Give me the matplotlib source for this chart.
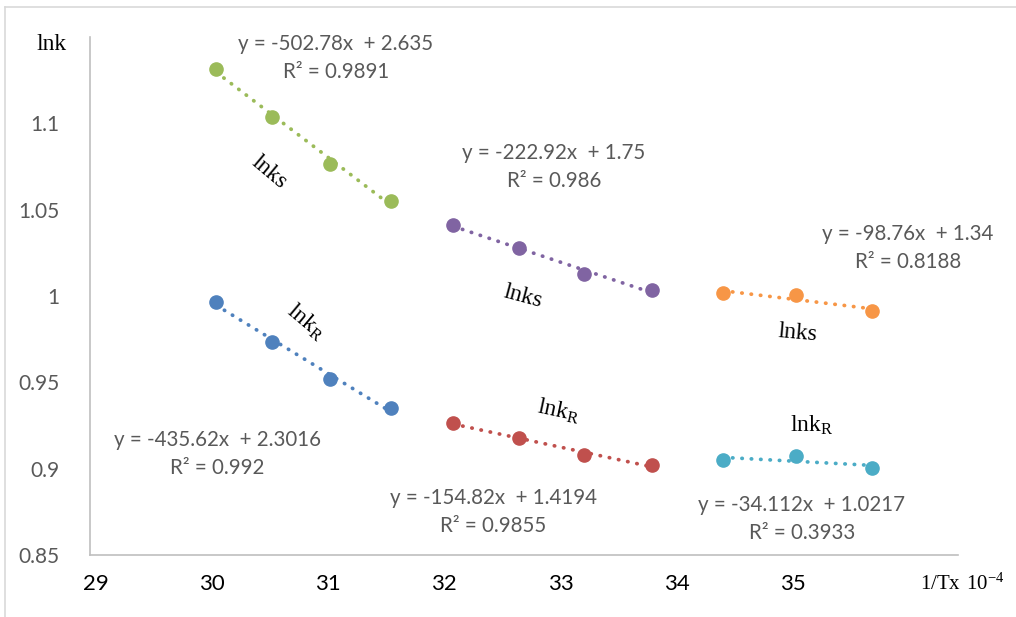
import numpy as np
import matplotlib.pyplot as plt
from matplotlib.lines import Line2D

# x = 1/T x 10^-4, y = lnk
x_low = [30.04, 30.52, 31.02, 31.54]
x_mid = [32.08, 32.64, 33.20, 33.79]
x_high = [34.40, 35.03, 35.68]

lnks_low = [1.1315, 1.1036, 1.0764, 1.0550]
lnks_mid = [1.0411, 1.0278, 1.0127, 1.0034]
lnks_high = [1.0017, 1.0005, 0.9913]

lnkr_low = [0.9965, 0.9733, 0.9519, 0.9351]
lnkr_mid = [0.9264, 0.9177, 0.9079, 0.9021]
lnkr_high = [0.9050, 0.9073, 0.9004]

colors = ['#9BBB59', '#8064A2', '#F79646', '#4F81BD', '#C0504D', '#4BACC6']

equations = ['y = -502.78x  + 2.635\nR² = 0.9891',
             'y = -222.92x  + 1.75\nR² = 0.986',
             'y = -98.76x  + 1.34\nR² = 0.8188',
             'y = -435.62x  + 2.3016\nR² = 0.992',
             'y = -154.82x  + 1.4194\nR² = 0.9855',
             'y = -34.112x  + 1.0217\nR² = 0.3933']

yticks = [0.85, 0.9, 0.95, 1.0, 1.05, 1.1]
ytick_labels = ['0.85', '0.9', '0.95', '1', '1.05', '1.1']
xticks = [29, 30, 31, 32, 33, 34, 35]

W, H = 1016, 617
fig = plt.figure(figsize=(W / 100, H / 100), dpi=100)
ax = fig.add_axes([90 / W, 1 - 555 / H, (958 - 90) / W, (555 - 37) / H])


def px(x, y):
    # pixel position -> figure fraction
    return x / W, 1 - y / H


series = [(x_low, lnks_low), (x_mid, lnks_mid), (x_high, lnks_high),
          (x_low, lnkr_low), (x_mid, lnkr_mid), (x_high, lnkr_high)]

for (xs, ys), c in zip(series, colors):
    xs = np.array(xs)
    ys = np.array(ys)
    k, b = np.polyfit(xs, ys, 1)
    xx = np.array([xs.min(), xs.max()])
    ax.plot(xx, k * xx + b, color=c, lw=2.7, linestyle=(0, (0.1, 2.4)),
            dash_capstyle='round', zorder=2)
    ax.plot(xs, ys, 'o', color=c, ms=9.5, zorder=3)

ax.set_xlim(28.953, 36.42)
ax.set_ylim(0.85, 1.15)
ax.set_yticks(yticks)
ax.set_yticklabels(ytick_labels, fontsize=15, color='#595959', family='Lato')
ax.set_xticks(xticks)
ax.set_xticklabels([str(t) for t in xticks], fontsize=16, color='black', family='Lato')
ax.tick_params(axis='y', length=0, pad=22)
ax.tick_params(axis='x', length=0, pad=14)
for s in ['top', 'right']:
    ax.spines[s].set_visible(False)
for s in ['left', 'bottom']:
    ax.spines[s].set_color('#BFBFBF')
    ax.spines[s].set_linewidth(1.2)

# trendline equations
eq_pos = [(336, 58), (554, 167), (908, 248), (217, 454), (493, 512), (802, 519)]
for (ex, ey), txt in zip(eq_pos, equations):
    fig.text(*px(ex, ey), txt, ha='center', va='center', fontsize=14.8,
             color='#595959', family='Lato', linespacing=1.45)

# series labels
lab_font = dict(family='Liberation Serif', fontsize=17, color='black',
                ha='center', va='center', rotation_mode='anchor')
labels = [('lnks', 269, 172, -40), ('lnks', 523, 297, -15), ('lnks', 798, 333, -5),
          (r'$\mathregular{lnk_R}$', 306, 322, -40), (r'$\mathregular{lnk_R}$', 559, 411, -12),
          (r'$\mathregular{lnk_R}$', 812, 425, 0)]
for txt, lx, ly, rot in labels:
    fig.text(*px(lx, ly), txt, rotation=rot, **lab_font)

fig.text(*px(52, 45), 'lnk', family='Liberation Serif', fontsize=17,
         ha='center', va='center')
fig.text(*px(962, 584), r'$\mathregular{1/Tx\ 10^{-4}}$', family='Liberation Serif',
         fontsize=15, ha='center', va='center')

# outer chart border
fig.add_artist(Line2D([5 / W, 1], [1 - 7 / H] * 2, color='#D9D9D9', lw=1.2))
fig.add_artist(Line2D([5 / W] * 2, [0, 1 - 7 / H], color='#D9D9D9', lw=1.2))

fig.savefig('out.png', dpi=100)
